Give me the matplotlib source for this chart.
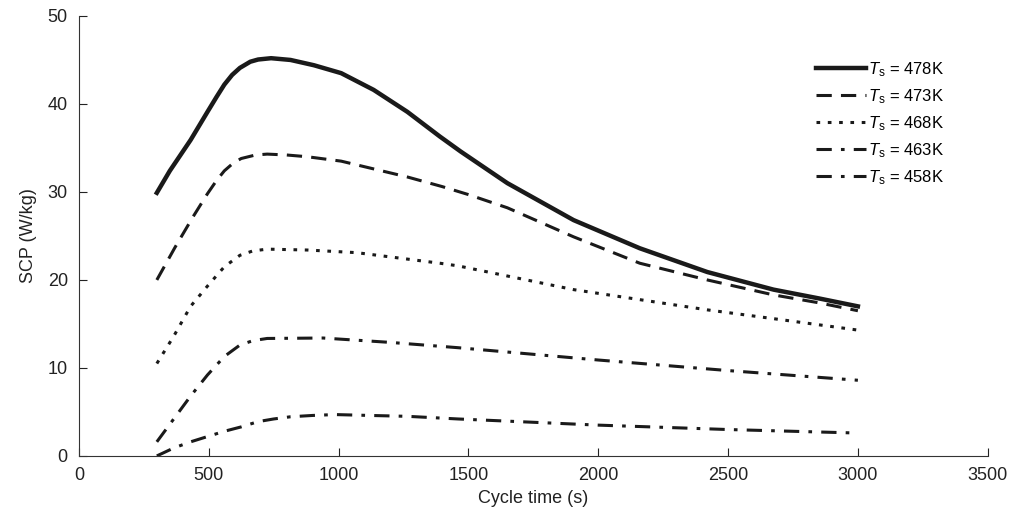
import matplotlib
matplotlib.use("Agg")
from matplotlib import pyplot as plt

plt.rcParams['font.family'] = ['Liberation Sans', 'DejaVu Sans']
plt.rcParams['mathtext.fontset'] = 'custom'
plt.rcParams['mathtext.it'] = 'Liberation Sans:italic'
plt.rcParams['mathtext.rm'] = 'Liberation Sans'

# cycle time (s) vs SCP (W/kg)
t_478 = [300, 350, 430, 495, 530, 560, 590, 620, 660, 690, 740, 815, 905, 1010, 1135,
         1265, 1390, 1470, 1650, 1905, 2160, 2420, 2675, 2850, 3000]
scp_478 = [29.9, 32.4, 35.9, 39.1, 40.8, 42.2, 43.3, 44.1, 44.8, 45.05, 45.2, 45.0,
           44.4, 43.5, 41.6, 39.1, 36.3, 34.6, 31.0, 26.8, 23.6, 20.9, 18.9, 17.9, 17.0]

t_473 = [300, 370, 440, 495, 530, 560, 595, 625, 680, 725, 800, 880, 1010, 1265, 1400,
         1500, 1650, 1905, 2160, 2420, 2675, 2850, 3000]
scp_473 = [20.0, 23.7, 27.2, 29.8, 31.3, 32.4, 33.3, 33.8, 34.2, 34.3, 34.2, 34.0,
           33.5, 31.7, 30.6, 29.7, 28.2, 24.9, 21.9, 20.0, 18.3, 17.4, 16.5]

t_468 = [300, 365, 430, 495, 560, 620, 670, 725, 880, 1070, 1390, 1460, 1905, 2420,
         2700, 3000]
scp_468 = [10.5, 13.6, 17.0, 19.3, 21.5, 22.8, 23.3, 23.5, 23.4, 23.1, 21.9, 21.6,
           18.9, 16.6, 15.5, 14.3]

t_463 = [300, 365, 430, 495, 560, 620, 670, 725, 940, 1200, 1460, 2000, 2500, 3000]
scp_463 = [1.6, 4.2, 6.8, 9.2, 11.3, 12.6, 13.1, 13.35, 13.4, 12.9, 12.3, 10.9, 9.7, 8.6]

t_458 = [300, 365, 430, 495, 560, 625, 690, 750, 815, 900, 985, 1120, 1265, 1460,
         2000, 2500, 3000]
scp_458 = [0.0, 0.9, 1.6, 2.2, 2.8, 3.3, 3.9, 4.2, 4.45, 4.6, 4.7, 4.6, 4.5, 4.2,
           3.5, 3.0, 2.6]

labels = ['478K', '473K', '468K', '463K', '458K']

fig = plt.figure(figsize=(10.12, 5.32), dpi=100)
ax = fig.add_axes([0.078, 0.143, 0.898, 0.827])

c = '#1a1a1a'
dashdot = (0, (5, 3, 1.2, 3))
ax.plot(t_478, scp_478, color=c, lw=3.2, ls='-', label=r'$T_\mathrm{s}$ = ' + labels[0])
ax.plot(t_473, scp_473, color=c, lw=2.2, ls=(0, (5, 3)), label=r'$T_\mathrm{s}$ = ' + labels[1])
ax.plot(t_468, scp_468, color=c, lw=2.2, ls=(0, (1.2, 2.5)), label=r'$T_\mathrm{s}$ = ' + labels[2])
ax.plot(t_463, scp_463, color=c, lw=2.2, ls=dashdot, label=r'$T_\mathrm{s}$ = ' + labels[3])
ax.plot(t_458, scp_458, color=c, lw=2.2, ls=dashdot, label=r'$T_\mathrm{s}$ = ' + labels[4])

ax.set_xlim(0, 3500)
ax.set_ylim(0, 50)
ax.set_xticks(range(0, 3501, 500))
ax.set_yticks(range(0, 51, 10))
ax.spines['top'].set_visible(False)
ax.spines['right'].set_visible(False)
ax.spines['left'].set_color('#333333')
ax.spines['bottom'].set_color('#333333')
ax.tick_params(direction='in', length=6, labelsize=13, colors='#222222', pad=8)
ax.set_xlabel('Cycle time (s)', fontsize=13, color='#222222', labelpad=4)
ax.set_ylabel('SCP (W/kg)', fontsize=13, color='#222222', labelpad=8)

leg = ax.legend(loc='upper right', bbox_to_anchor=(0.952, 0.9), frameon=False,
                borderaxespad=0, borderpad=0, fontsize=12, handlelength=3.0,
                handletextpad=0.15, labelspacing=0.5)

fig.savefig('out.png', dpi=100)
